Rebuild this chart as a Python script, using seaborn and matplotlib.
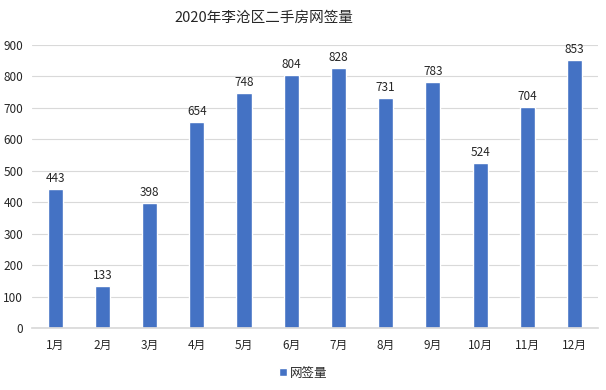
import matplotlib
matplotlib.use("Agg")
import matplotlib.pyplot as plt
import seaborn as sns
import pandas as pd

months = ["1月", "2月", "3月", "4月", "5月", "6月", "7月", "8月", "9月", "10月", "11月", "12月"]
values = [443, 133, 398, 654, 748, 804, 828, 731, 783, 524, 704, 853]
series_name = "网签量"
title = "2020年李沧区二手房网签量"

sns.set_theme(style="white")
plt.rcParams['font.family'] = ['Noto Sans CJK SC', 'DejaVu Sans']

df = pd.DataFrame({"month": months, "value": values, "series": series_name})

fig = plt.figure(figsize=(6.06, 3.9), dpi=100)
ax = fig.add_axes([0.052, 0.159, 0.935, 0.726])
sns.barplot(data=df, x="month", y="value", hue="series", palette=["#4472C4"],
            width=0.32, ax=ax, saturation=1)

for i, v in enumerate(values):
    ax.text(i, v + 12, str(v), ha="center", va="bottom", fontsize=8.5, color="#262626")

ax.set_ylim(0, 900)
ax.set_yticks(range(0, 901, 100))
ax.yaxis.grid(True, color="#D9D9D9", linewidth=0.8)
ax.set_axisbelow(True)
for s in ["top", "right", "left"]:
    ax.spines[s].set_visible(False)
ax.spines["bottom"].set_color("#D9D9D9")
ax.tick_params(axis="both", length=0, labelsize=8.5, colors="#262626")
ax.tick_params(axis="x", pad=8)
ax.tick_params(axis="y", pad=6)
ax.set_xlabel("")
ax.set_ylabel("")

fig.text(0.435, 0.955, title, ha="center", va="center", fontsize=10.5, color="#262626")

leg = ax.legend(loc="center", bbox_to_anchor=(0.48, -0.159), frameon=False,
                fontsize=9, handlelength=0.6, handleheight=0.6, handletextpad=0.3)
for t in leg.get_texts():
    t.set_color("#262626")

fig.savefig("out.png", dpi=100)
